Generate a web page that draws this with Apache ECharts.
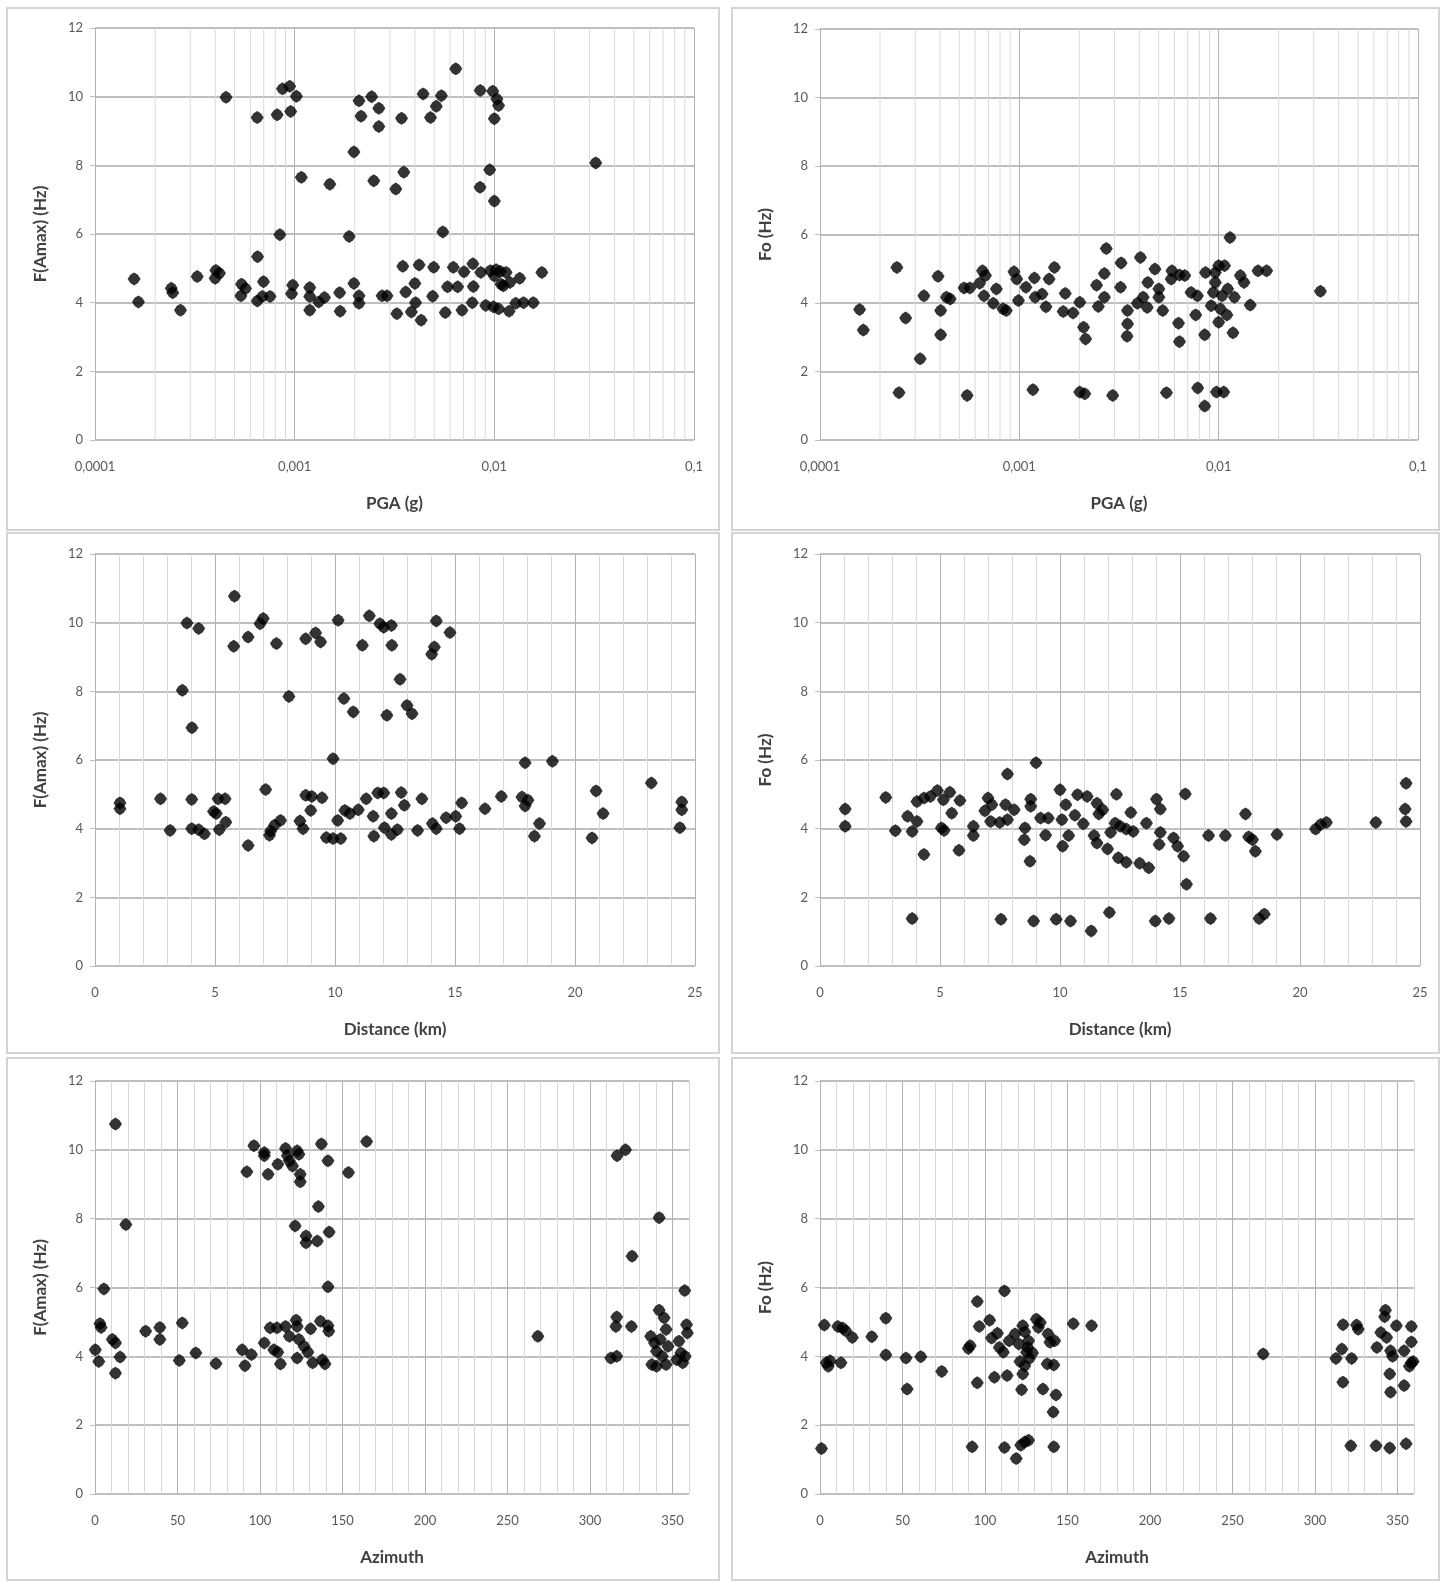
<!DOCTYPE html>
<html>
<head>
<meta charset="utf-8">
<script src="https://cdn.jsdelivr.net/npm/echarts@6/dist/echarts.min.js"></script>
<style>
  html, body { margin: 0; padding: 0; background: #fff; }
  #main { width: 1452px; height: 1583px; }
</style>
</head>
<body>
<div id="main"></div>
<script>
// panel 1: F(Amax) vs PGA
const pgaA = [0.000453,0.000649,0.000817,0.000869,0.000944,0.00102,0.000955,0.00108,0.0015,0.000843,
  0.000652,0.001875,0.00198,0.0021,0.00243,0.00215,0.00264,0.00264,0.00249,0.00343,
  0.00352,0.00321,0.0044,0.00543,0.00512,0.00479,0.00641,0.00552,0.0085,0.00982,
  0.0103,0.0105,0.01,0.00948,0.00848,0.01,0.0322,0.000157,0.000165,0.000241,
  0.000245,0.000268,0.000325,0.000403,0.00042,0.0004,0.000542,0.000567,0.000538,0.00065,
  0.000698,0.000689,0.000753,0.000978,0.000965,0.00119,0.00119,0.00119,0.00132,0.00141,
  0.00168,0.00169,0.00198,0.0021,0.0021,0.00274,0.0029,0.00325,0.00348,0.0036,
  0.004,0.00403,0.00384,0.0043,0.0042,0.00491,0.00497,0.00568,0.00583,0.00655,
  0.00623,0.00705,0.00689,0.00781,0.00785,0.00775,0.00855,0.00906,0.00955,0.01,
  0.0107,0.01145,0.0111,0.01197,0.0134,0.0099,0.0105,0.01186,0.0128,0.014,
  0.01567,0.0173,0.0102,0.0108];
const fAmaxA = [9.98,9.39,9.47,10.23,10.30,10.01,9.57,7.65,7.45,5.98,
  5.34,5.93,8.39,9.88,10.0,9.43,9.66,9.13,7.55,9.37,
  7.80,7.31,10.08,10.03,9.72,9.39,10.81,6.06,10.18,10.16,
  9.93,9.74,9.36,7.87,7.36,6.96,8.07,4.69,4.02,4.42,
  4.29,3.78,4.76,4.94,4.86,4.71,4.54,4.41,4.20,4.05,
  4.61,4.18,4.18,4.51,4.26,4.44,4.18,3.78,4.02,4.15,
  4.29,3.75,4.56,4.20,3.98,4.20,4.20,3.68,5.06,4.31,
  4.56,4.0,3.73,3.49,5.10,4.19,5.03,3.71,4.46,4.46,
  5.03,4.90,3.78,5.13,4.47,4.0,4.88,3.92,4.93,4.78,
  4.91,4.88,4.49,4.59,4.71,3.88,3.82,3.75,3.98,4.0,
  4.0,4.88,4.96,4.54];

// panel 2: Fo vs PGA
const pgaB = [0.000158,0.000165,0.000243,0.000269,0.000249,0.000318,0.000332,0.000391,0.000403,0.000403,
  0.000431,0.00045,0.000528,0.000565,0.000547,0.000632,0.000654,0.000676,0.000665,0.00074,
  0.000767,0.000828,0.00086,0.00094,0.00097,0.00099,0.00108,0.00119,0.0012,0.0013,
  0.00136,0.00141,0.0015,0.00117,0.0017,0.00166,0.00186,0.00201,0.0021,0.00215,
  0.00201,0.00213,0.00244,0.00267,0.00273,0.00249,0.00267,0.00294,0.00322,0.00324,
  0.00349,0.00349,0.00347,0.00391,0.00405,0.00418,0.00438,0.00441,0.00479,0.00501,
  0.00501,0.00524,0.00547,0.00578,0.00583,0.00636,0.00676,0.00629,0.00636,0.00727,
  0.00782,0.00767,0.00785,0.00851,0.00851,0.00859,0.00918,0.00962,0.00962,0.00975,
  0.0106,0.01,0.0102,0.0104,0.0107,0.0111,0.0114,0.011,0.0118,0.012,
  0.01285,0.0134,0.0144,0.01575,0.0174,0.0324,0.01,0.0094];
const foB = [3.81,3.21,5.04,3.56,1.38,2.37,4.21,4.78,3.78,3.07,
  4.17,4.12,4.44,4.44,1.30,4.58,4.94,4.80,4.21,3.99,
  4.41,3.83,3.78,4.91,4.70,4.07,4.46,4.73,4.17,4.26,
  3.89,4.70,5.04,1.47,4.28,3.75,3.71,4.02,3.29,2.95,
  1.40,1.35,4.52,4.86,5.59,3.90,4.17,1.30,4.46,5.17,
  3.78,3.39,3.03,3.99,5.33,4.17,3.87,4.60,4.99,4.41,
  4.17,3.78,1.38,4.70,4.94,4.82,4.80,3.41,2.87,4.31,
  4.21,3.65,1.52,3.07,0.99,4.89,3.92,4.89,4.60,1.40,
  1.40,3.44,3.83,4.21,5.09,4.41,5.91,3.65,3.13,4.17,
  4.80,4.60,3.94,4.94,4.94,4.34,5.09,4.31];

// panel 3: F(Amax) vs distance
const distC = [5.81,3.83,4.32,5.78,6.38,6.88,7.01,7.56,8.78,9.19,
  9.40,10.13,11.43,11.87,12.03,12.35,11.14,12.37,14.22,14.79,
  14.14,14.03,3.64,4.04,8.08,10.37,10.76,12.16,12.71,13.0,
  13.21,9.92,17.92,19.06,23.18,1.04,1.04,2.73,3.13,4.03,
  4.03,4.32,4.56,4.94,5.05,5.13,5.42,5.45,5.18,6.38,
  7.11,7.27,7.48,7.73,8.54,8.67,8.78,9.03,8.99,9.46,
  9.64,9.92,10.24,10.11,10.41,10.62,10.97,11.30,11.59,11.78,
  12.03,11.62,12.06,12.35,12.60,12.76,12.89,13.44,13.62,14.06,
  14.22,14.63,15.03,15.28,15.19,16.25,16.93,17.79,18.04,17.92,
  18.52,18.31,20.71,20.88,21.17,24.45,24.45,24.37,7.32,12.35];
const fAmaxC = [10.77,9.99,9.83,9.31,9.58,9.97,10.12,9.39,9.53,9.70,
  9.44,10.07,10.20,9.97,9.87,9.92,9.34,9.34,10.05,9.71,
  9.29,9.08,8.03,6.94,7.85,7.79,7.40,7.30,8.35,7.59,
  7.35,6.04,5.92,5.96,5.33,4.75,4.58,4.87,3.95,4.85,
  4.0,3.97,3.85,4.50,4.44,4.87,4.87,4.19,3.97,3.51,
  5.14,3.81,4.10,4.24,4.22,4.0,4.97,4.94,4.53,4.90,
  3.74,3.71,3.71,4.24,4.53,4.44,4.55,4.87,4.36,5.04,
  5.04,3.78,4.03,3.83,3.97,5.05,4.68,3.95,4.87,4.15,
  4.0,4.32,4.36,4.75,4.0,4.58,4.94,4.92,4.83,4.66,
  4.15,3.78,3.73,5.10,4.44,4.78,4.55,4.03,3.93,4.44];

// panel 4: Fo vs distance
const distD = [1.05,1.05,2.74,3.14,3.65,3.84,4.04,3.84,4.33,4.04,
  4.33,4.60,4.89,5.14,5.41,5.06,5.17,5.49,5.83,5.79,
  6.39,6.39,6.87,7.0,7.16,7.11,7.49,7.73,7.81,7.81,
  7.54,8.09,8.54,8.51,8.75,8.78,8.78,9.0,8.90,9.19,
  9.51,9.40,9.84,10.0,10.08,10.24,10.11,10.36,10.44,10.62,
  10.73,10.97,11.30,11.13,11.54,11.78,11.62,11.42,11.54,11.98,
  12.06,12.11,12.35,12.30,12.51,12.76,12.95,13.05,12.43,12.76,
  13.32,13.70,13.60,14.02,14.18,14.18,14.13,13.97,14.54,14.73,
  14.90,15.15,15.27,15.22,16.19,16.27,16.89,17.73,17.86,18.02,
  18.14,18.30,18.51,19.04,20.65,20.86,21.10,23.16,24.42,24.38,
  24.42];
const foD = [4.57,4.07,4.91,3.94,4.36,3.92,4.21,1.38,3.25,4.79,
  4.89,4.94,5.11,4.84,5.06,4.02,3.95,4.45,4.82,3.37,
  4.07,3.80,4.52,4.89,4.70,4.21,4.18,4.70,5.59,4.26,
  1.36,4.55,4.02,3.68,3.05,4.86,4.65,5.92,1.31,4.31,
  4.31,3.81,1.36,5.13,4.26,4.70,3.49,3.80,1.31,4.39,
  4.99,4.14,1.02,4.94,4.74,4.55,4.43,3.80,3.58,3.41,
  1.56,3.89,5.0,4.16,4.07,3.99,4.47,3.92,3.15,3.02,
  2.99,2.86,4.16,4.86,4.57,3.89,3.54,1.31,1.38,3.73,
  3.49,3.20,2.38,5.01,3.80,1.38,3.80,4.43,3.76,3.68,
  3.34,1.38,1.51,3.83,3.99,4.12,4.18,4.18,5.32,4.57,
  4.21];

// panel 5: F(Amax) vs azimuth
const azE = [12.4,18.7,5.4,96.3,102.6,102.6,92.0,104.9,110.8,115.5,
  117.8,122.5,123.6,119.7,124.4,124.4,116.6,137.2,141.2,153.6,
  164.6,135.4,121.3,127.9,127.9,134.7,141.9,141.2,316.4,321.5,
  325.5,341.9,357.4,3.0,3.7,0.2,2.3,10.5,12.4,15.2,
  12.4,30.7,39.3,39.3,52.9,51.1,61.1,73.3,89.2,90.9,
  94.8,102.6,106.1,110.3,108.4,110.8,112.4,115.5,117.8,121.9,
  122.5,123.6,122.5,126.7,129.0,130.7,131.9,136.6,137.8,139.4,
  141.2,141.7,268.4,312.6,316.2,316.2,315.7,325.1,341.9,344.9,
  336.8,339.1,342.6,346.1,347.3,340.3,343.8,340.3,346.1,353.9,
  355.1,356.2,358.5,359.0,357.7,352.6,337.5];
const fAmaxE = [10.75,7.83,5.96,10.12,9.92,9.83,9.36,9.29,9.58,10.04,
  9.68,9.97,9.87,9.53,9.29,9.07,9.83,10.17,9.68,9.34,
  10.24,8.35,7.79,7.50,7.30,7.35,7.61,6.02,9.83,10.0,
  6.91,8.03,5.91,4.95,4.84,4.19,3.85,4.49,4.39,3.98,
  3.51,4.73,4.84,4.49,4.97,3.88,4.10,3.79,4.19,3.73,
  4.05,4.39,4.83,4.83,4.19,4.12,3.78,4.87,4.58,5.05,
  4.87,4.49,3.95,4.29,4.12,4.80,3.81,5.02,3.90,3.78,
  4.89,4.73,4.58,3.95,4.0,5.14,4.87,4.87,5.34,5.12,
  4.58,4.39,4.49,4.78,4.29,4.15,4.0,3.71,3.76,4.44,
  4.10,3.81,4.92,4.68,4.0,3.90,3.76];

// panel 6: Fo vs azimuth
const azF = [0.9,2.6,3.8,5.0,6.1,12.7,10.8,13.7,15.6,19.6,
  31.4,39.9,39.9,52.1,52.8,61.1,73.8,89.9,91.0,92.2,
  95.3,96.5,95.3,102.8,104.0,105.7,107.5,108.7,111.8,111.8,
  113.4,111.1,114.6,118.9,121.7,124.1,126.4,141.7,118.2,120.5,
  122.2,122.9,124.1,125.2,124.1,122.9,126.4,126.9,125.9,131.1,
  133.5,132.3,135.1,138.2,139.4,137.7,142.2,141.7,143.0,141.3,
  153.5,164.6,268.6,312.7,316.3,316.9,317.0,322.2,321.7,325.2,
  326.2,337.0,342.7,342.2,339.9,337.5,343.4,345.8,347.0,349.3,
  345.3,345.8,345.3,355.2,354.0,354.0,358.4,358.4,358.4,357.2,
  359.5,121.2,128.8];
const foF = [1.32,4.91,3.81,3.71,3.87,3.81,4.87,4.82,4.74,4.55,
  4.57,5.11,4.04,3.95,3.05,3.99,3.56,4.23,4.31,1.37,
  5.59,4.87,3.23,5.05,4.53,3.39,4.67,4.26,5.90,1.35,
  3.44,4.12,4.45,1.03,1.42,1.51,1.56,1.37,4.65,4.36,
  3.03,4.89,4.71,4.12,3.73,3.49,4.45,3.94,4.26,5.08,
  4.98,4.84,3.05,4.65,4.41,3.78,4.45,3.75,2.88,2.38,
  4.95,4.89,4.07,3.94,4.21,3.25,4.92,3.94,1.40,4.91,
  4.79,1.40,5.34,5.15,4.69,4.26,4.55,4.16,4.0,4.89,
  3.49,2.96,1.34,1.46,4.16,3.15,4.87,4.42,3.81,3.71,
  3.85,3.85,4.10];

// tick labels / gridline values
const hzTicks = [0, 2, 4, 6, 8, 10, 12];
const pgaMajor = [0.0001, 0.001, 0.01, 0.1];
const pgaMinor = [0.0002,0.0003,0.0004,0.0005,0.0006,0.0007,0.0008,0.0009,
  0.002,0.003,0.004,0.005,0.006,0.007,0.008,0.009,
  0.02,0.03,0.04,0.05,0.06,0.07,0.08,0.09];

const FONT = 'Lato, "DejaVu Sans", sans-serif';
const LABEL = '#595959';
const TITLE = '#404040';
const MINOR = '#d9d9d9';
const MAJOR = '#b3b3b3';
// blurred excel-ish diamond
const DOT = 'path://M0,-6 L3.5,-3.8 L6,0 L3.5,3.8 L0,6 L-3.5,3.8 L-6,0 L-3.5,-3.8 Z';

const grids = [
  { left: 95, top: 28, width: 599, height: 412 },
  { left: 820, top: 29, width: 598, height: 411 },
  { left: 95, top: 554, width: 600, height: 412 },
  { left: 820, top: 554, width: 600, height: 412 },
  { left: 95, top: 1081, width: 594, height: 413 },
  { left: 820, top: 1081, width: 594, height: 413 }
];

const boxes = [
  [7, 8, 712, 522], [732, 8, 707, 522],
  [7, 533, 712, 520], [732, 533, 707, 520],
  [7, 1058, 712, 522], [732, 1058, 707, 522]
];

function pgaLabel(v) {
  const e = Math.round(Math.log10(v));
  return v.toFixed(Math.max(0, -e)).replace('.', ',');
}

const nameStyle = { color: TITLE, fontWeight: 'bold', fontSize: 17, fontFamily: FONT };

function logX(i) {
  return {
    type: 'log', gridIndex: i, logBase: 10, min: pgaMajor[0], max: pgaMajor[3],
    name: 'PGA (g)', nameLocation: 'middle', nameGap: 55, nameTextStyle: nameStyle,
    axisLine: { show: false }, axisTick: { show: false },
    axisLabel: { color: LABEL, fontSize: 13, fontFamily: FONT, margin: 20, formatter: pgaLabel },
    splitLine: { show: true, lineStyle: { color: MAJOR, width: 1 } }
  };
}

function linX(i, name, max, step, every) {
  const colors = [MAJOR];
  for (let k = 1; k < every; k++) colors.push(MINOR);
  return {
    type: 'value', gridIndex: i, min: 0, max: max, interval: step,
    name: name, nameLocation: 'middle', nameGap: 55, nameTextStyle: nameStyle,
    axisLine: { show: false }, axisTick: { show: false },
    axisLabel: {
      color: LABEL, fontSize: 13, fontFamily: FONT, margin: 20,
      formatter: v => (Math.round(v) % (step * every) === 0 ? String(v) : '')
    },
    splitLine: { show: true, lineStyle: { color: colors, width: 1 } }
  };
}

function hzY(i, name) {
  return {
    type: 'value', gridIndex: i, min: hzTicks[0], max: hzTicks[hzTicks.length - 1], interval: 2,
    name: name, nameLocation: 'middle', nameGap: 46, nameTextStyle: nameStyle,
    axisLine: { show: false },
    axisTick: { show: true, length: 5, lineStyle: { color: '#bfbfbf' } },
    axisLabel: { color: LABEL, fontSize: 13, fontFamily: FONT, margin: 12 },
    splitLine: { show: true, lineStyle: { color: '#bfbfbf', width: 2 } }
  };
}

function pts(xs, ys) {
  return xs.map((x, k) => [x, ys[k]]);
}

function dots(i, xs, ys) {
  return {
    type: 'scatter', xAxisIndex: i, yAxisIndex: i, z: 3,
    symbol: DOT, symbolSize: 13,
    itemStyle: { color: '#000' },
    data: pts(xs, ys)
  };
}

// minor log gridlines drawn through the log axis
function minorGrid(i) {
  return {
    type: 'custom', xAxisIndex: i, yAxisIndex: i, silent: true, z: 1,
    data: pgaMinor,
    renderItem: (params, api) => {
      const v = api.value(0);
      const p0 = api.coord([v, hzTicks[0]]);
      const p1 = api.coord([v, hzTicks[hzTicks.length - 1]]);
      return {
        type: 'line',
        shape: { x1: p0[0], y1: p0[1], x2: p1[0], y2: p1[1] },
        style: { stroke: MINOR, lineWidth: 1 }
      };
    },
    encode: { x: 0 }
  };
}

const chart = echarts.init(document.getElementById('main'));

chart.setOption({
  backgroundColor: '#fff',
  animation: false,
  grid: grids,
  graphic: boxes.map(b => ({
    type: 'rect', silent: true, z: -1,
    shape: { x: b[0], y: b[1], width: b[2], height: b[3] },
    style: { fill: 'none', stroke: '#d4d4d4', lineWidth: 2 }
  })),
  xAxis: [
    logX(0), logX(1),
    linX(2, 'Distance (km)', 25, 1, 5), linX(3, 'Distance (km)', 25, 1, 5),
    linX(4, 'Azimuth', 360, 10, 5), linX(5, 'Azimuth', 360, 10, 5)
  ],
  yAxis: [
    hzY(0, 'F(Amax) (Hz)'), hzY(1, 'Fo (Hz)'),
    hzY(2, 'F(Amax) (Hz)'), hzY(3, 'Fo (Hz)'),
    hzY(4, 'F(Amax) (Hz)'), hzY(5, 'Fo (Hz)')
  ],
  series: [
    minorGrid(0), minorGrid(1),
    dots(0, pgaA, fAmaxA), dots(1, pgaB, foB),
    dots(2, distC, fAmaxC), dots(3, distD, foD),
    dots(4, azE, fAmaxE), dots(5, azF, foF)
  ]
});
</script>
</body>
</html>
